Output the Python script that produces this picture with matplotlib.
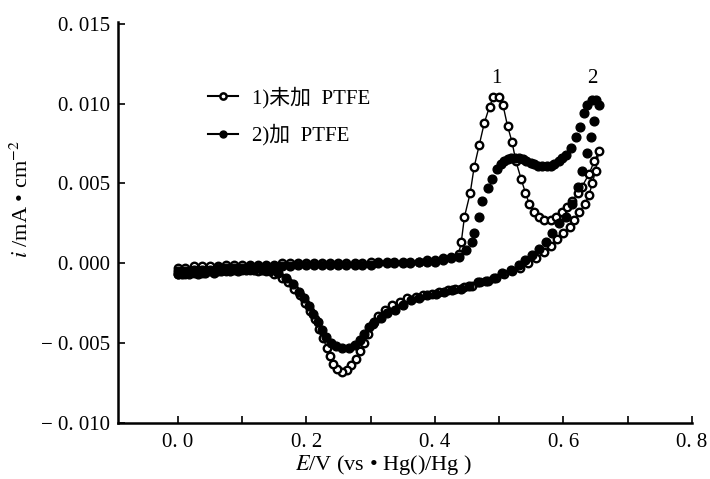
import numpy as np
import matplotlib
matplotlib.use("Agg")
import matplotlib.pyplot as plt
from matplotlib.lines import Line2D

plt.rcParams['font.family'] = ['Liberation Serif', 'Noto Sans CJK SC']
plt.rcParams['mathtext.fontset'] = 'stix'

# ---- data: curve 1 (without PTFE, open circles) ----
e1_fwd = [0.000, 0.012, 0.025, 0.037, 0.050, 0.062, 0.075, 0.087, 0.100, 0.112,
          0.125, 0.137, 0.150, 0.162, 0.175, 0.187, 0.200, 0.212, 0.225, 0.237,
          0.250, 0.262, 0.275, 0.287, 0.300, 0.312, 0.325, 0.337, 0.350, 0.362,
          0.375, 0.387, 0.400, 0.412, 0.425, 0.437,
          0.441, 0.446, 0.455, 0.461, 0.469, 0.477, 0.485, 0.491, 0.500, 0.506,
          0.513, 0.520, 0.526, 0.534, 0.541, 0.547, 0.555, 0.562, 0.570, 0.580,
          0.589, 0.598, 0.606, 0.614, 0.622, 0.629, 0.640, 0.648, 0.655]
i1_fwd = [-0.0003, -0.0003, -0.0002, -0.0002, -0.0002, -0.0002, -0.0001, -0.0001, -0.0001, -0.0001,
          -0.0001, -0.0001, -0.0001, 0.0000, 0.0000, 0.0000, 0.0000, 0.0000, 0.0000, 0.0000,
          0.0000, 0.0000, 0.0000, 0.0000, 0.0001, 0.0001, 0.0001, 0.0001, 0.0001, 0.0001,
          0.0001, 0.0002, 0.0002, 0.0003, 0.0004, 0.0006,
          0.0013, 0.0029, 0.0044, 0.0060, 0.0074, 0.0088, 0.0098, 0.0104, 0.0104, 0.0099,
          0.0086, 0.0076, 0.0064, 0.0053, 0.0044, 0.0037, 0.0032, 0.0029, 0.0027, 0.0027,
          0.0029, 0.0032, 0.0035, 0.0039, 0.0044, 0.0048, 0.0056, 0.0064, 0.0070]
e1_rev = [0.650, 0.645, 0.640, 0.633, 0.625, 0.617, 0.610, 0.600, 0.590, 0.580,
          0.570, 0.558, 0.545, 0.532, 0.520, 0.507, 0.495, 0.482, 0.470, 0.457,
          0.445, 0.432, 0.420, 0.407, 0.395, 0.382, 0.370, 0.357, 0.345, 0.333,
          0.322, 0.312, 0.303, 0.296, 0.290, 0.283, 0.277, 0.270, 0.263, 0.256,
          0.248, 0.242, 0.237, 0.232, 0.226, 0.220, 0.213, 0.206, 0.198, 0.190,
          0.181, 0.172, 0.162, 0.150, 0.137, 0.125, 0.112, 0.100, 0.087, 0.075,
          0.062, 0.050, 0.037, 0.025, 0.012, 0.000]
i1_rev = [0.0058, 0.0050, 0.0043, 0.0037, 0.0032, 0.0027, 0.0023, 0.0019, 0.0015, 0.0011,
          0.0007, 0.0003, 0.0000, -0.0003, -0.0005, -0.0007, -0.0009, -0.0011, -0.0012, -0.0014,
          -0.0015, -0.0016, -0.0017, -0.0018, -0.0019, -0.0020, -0.0021, -0.0022, -0.0024, -0.0026,
          -0.0029, -0.0033, -0.0038, -0.0044, -0.0050, -0.0055, -0.0060, -0.0064, -0.0067, -0.0068,
          -0.0066, -0.0063, -0.0058, -0.0053, -0.0047, -0.0041, -0.0035, -0.0030, -0.0025, -0.0020,
          -0.0016, -0.0012, -0.0009, -0.0007, -0.0005, -0.0005, -0.0004, -0.0004, -0.0004, -0.0005,
          -0.0005, -0.0005, -0.0006, -0.0006, -0.0007, -0.0007]

# ---- data: curve 2 (with PTFE, filled circles) ----
e2_fwd = [0.000, 0.012, 0.025, 0.037, 0.050, 0.062, 0.075, 0.087, 0.100, 0.112,
          0.125, 0.137, 0.150, 0.162, 0.175, 0.187, 0.200, 0.212, 0.225, 0.237,
          0.250, 0.262, 0.275, 0.287, 0.300, 0.312, 0.325, 0.337, 0.350, 0.362,
          0.375, 0.387, 0.400, 0.412, 0.425, 0.437, 0.448,
          0.457, 0.461, 0.468, 0.474, 0.482, 0.489, 0.497, 0.503, 0.508, 0.513,
          0.518, 0.524, 0.531, 0.537, 0.542, 0.549, 0.555, 0.561, 0.567, 0.574,
          0.580, 0.586, 0.593, 0.598, 0.604, 0.612, 0.620, 0.626, 0.632, 0.637,
          0.644, 0.651, 0.656]
i2_fwd = [-0.0005, -0.0005, -0.0004, -0.0004, -0.0004, -0.0003, -0.0003, -0.0003, -0.0003, -0.0002,
          -0.0002, -0.0002, -0.0002, -0.0002, -0.0002, -0.0001, -0.0001, -0.0001, -0.0001, -0.0001,
          -0.0001, -0.0001, -0.0001, -0.0001, -0.0001, 0.0000, 0.0000, 0.0000, 0.0000, 0.0000,
          0.0001, 0.0001, 0.0001, 0.0002, 0.0003, 0.0004, 0.0008,
          0.0013, 0.0019, 0.0029, 0.0039, 0.0047, 0.0053, 0.0059, 0.0062, 0.0064, 0.0065,
          0.0066, 0.0066, 0.0066, 0.0065, 0.0064, 0.0063, 0.0062, 0.0061, 0.0061, 0.0061,
          0.0061, 0.0062, 0.0064, 0.0066, 0.0068, 0.0072, 0.0079, 0.0085, 0.0094, 0.0099,
          0.0102, 0.0102, 0.0099]
e2_rev = [0.648, 0.643, 0.637, 0.629, 0.622, 0.614, 0.604, 0.593, 0.583, 0.573,
          0.562, 0.551, 0.540, 0.531, 0.518, 0.505, 0.492, 0.480, 0.467, 0.453,
          0.440, 0.427, 0.414, 0.401, 0.388, 0.376, 0.363, 0.350, 0.338, 0.326,
          0.316, 0.306, 0.298, 0.290, 0.283, 0.275, 0.266, 0.256, 0.246, 0.238,
          0.231, 0.225, 0.218, 0.211, 0.204, 0.196, 0.188, 0.179, 0.168, 0.156,
          0.143, 0.131, 0.118, 0.106, 0.093, 0.081, 0.068, 0.056, 0.043, 0.031,
          0.018, 0.006, 0.000]
i2_rev = [0.0089, 0.0079, 0.0069, 0.0058, 0.0048, 0.0037, 0.0029, 0.0025, 0.0019, 0.0013,
          0.0009, 0.0005, 0.0002, -0.0001, -0.0004, -0.0006, -0.0009, -0.0011, -0.0012, -0.0014,
          -0.0016, -0.0017, -0.0018, -0.0019, -0.0020, -0.0022, -0.0023, -0.0026, -0.0029, -0.0031,
          -0.0034, -0.0037, -0.0040, -0.0044, -0.0048, -0.0051, -0.0053, -0.0053, -0.0052, -0.0050,
          -0.0046, -0.0042, -0.0037, -0.0032, -0.0027, -0.0022, -0.0018, -0.0013, -0.0009, -0.0006,
          -0.0005, -0.0004, -0.0004, -0.0004, -0.0005, -0.0005, -0.0005, -0.0006, -0.0006, -0.0007,
          -0.0007, -0.0007, -0.0007]

series_labels = ['1)未加  PTFE', '2)加  PTFE']
peak_labels = ['1', '2']
peak_pos = [(0.496, 0.0110), (0.645, 0.0110)]

x_ticks = [0.0, 0.2, 0.4, 0.6, 0.8]
x_tick_labels = ['0. 0', '0. 2', '0. 4', '0. 6', '0. 8']
x_minor = [0.1, 0.3, 0.5, 0.7]
y_ticks = [-0.010, -0.005, 0.000, 0.005, 0.010, 0.015]
y_tick_labels = ['− 0. 010', '− 0. 005', '0. 000', '0. 005', '0. 010', '0. 015']

fig = plt.figure(figsize=(7.10, 4.79), dpi=100)
ax = fig.add_axes([0.1662, 0.1169, 0.8084, 0.8371])

e1 = e1_fwd + e1_rev
i1 = i1_fwd + i1_rev
e2 = e2_fwd + e2_rev
i2 = i2_fwd + i2_rev

ax.plot(e1, i1, color='black', lw=1.0, marker='o', markersize=5.4,
        markerfacecolor='white', markeredgecolor='black', markeredgewidth=1.7, zorder=2)
ax.plot(e2, i2, color='black', lw=0, marker='o', markersize=6.3,
        markerfacecolor='black', markeredgecolor='black', zorder=3)

ax.set_xlim(-0.093, 0.8)
ax.set_ylim(-0.010, 0.0151)

ax.set_xticks(x_ticks)
ax.set_xticklabels(x_tick_labels, fontsize=15)
ax.set_xticks(x_minor, minor=True)
ax.set_yticks(y_ticks)
ax.set_yticklabels(y_tick_labels, fontsize=15)
ax.tick_params(axis='both', which='both', direction='in', length=5, width=1.2)
ax.tick_params(axis='x', pad=7)
ax.tick_params(axis='y', pad=6)

for s in ['top', 'right']:
    ax.spines[s].set_visible(False)
for s in ['left', 'bottom']:
    ax.spines[s].set_linewidth(1.8)

for lab, (px, py) in zip(peak_labels, peak_pos):
    ax.text(px, py, lab, fontsize=15, ha='center', va='bottom')

handles = [
    Line2D([], [], color='black', lw=1.5, marker='o', markersize=4.5,
           markerfacecolor='white', markeredgecolor='black', markeredgewidth=1.8),
    Line2D([], [], color='black', lw=1.5, marker='o', markersize=5,
           markerfacecolor='black', markeredgecolor='black'),
]
ax.legend(handles, series_labels, loc='upper left', bbox_to_anchor=(0.125, 0.885),
          frameon=False, fontsize=15, handlelength=1.4, handletextpad=0.7,
          labelspacing=0.75)

fig.text(0.031, 0.585, '$i$ /mA • cm$^{-2}$', rotation=90, fontsize=16,
         ha='center', va='center')
fig.text(0.54, 0.029, '$E$/V (vs • Hg()/Hg )', fontsize=16, ha='center', va='center')

fig.savefig('out.png', dpi=100)
